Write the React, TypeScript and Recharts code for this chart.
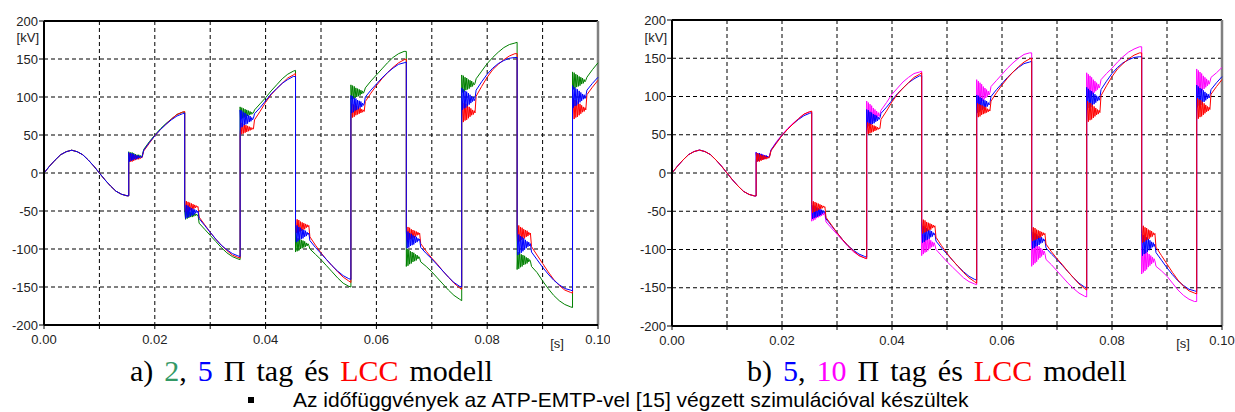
import { CartesianGrid, Line, LineChart, ReferenceLine, XAxis, YAxis } from "recharts";

// sample times in ms; each switching instant appears twice (value before / after the jump)
const timeMs = [
  0, 1, 2, 3, 4, 5, 6, 7, 8, 9, 10, 11, 12, 13, 14, 15,
  15.3, 15.3, 15.45, 15.6, 15.75, 15.9, 16.05, 16.2, 16.35, 16.5, 16.65, 16.8, 16.95, 17.1, 17.25, 17.4, 17.55, 17.7, 18, 19, 20, 21, 22, 23, 24, 25,
  25.4, 25.4, 25.55, 25.7, 25.85, 26, 26.15, 26.3, 26.45, 26.6, 26.75, 26.9, 27.05, 27.2, 27.35, 27.5, 27.65, 27.8, 28, 29, 30, 31, 32, 33, 34, 35,
  35.4, 35.4, 35.55, 35.7, 35.85, 36, 36.15, 36.3, 36.45, 36.6, 36.75, 36.9, 37.05, 37.2, 37.35, 37.5, 37.65, 37.8, 38, 39, 40, 41, 42, 43, 44, 45,
  45.4, 45.4, 45.55, 45.7, 45.85, 46, 46.15, 46.3, 46.45, 46.6, 46.75, 46.9, 47.05, 47.2, 47.35, 47.5, 47.65, 47.8, 48, 49, 50, 51, 52, 53, 54, 55,
  55.4, 55.4, 55.55, 55.7, 55.85, 56, 56.15, 56.3, 56.45, 56.6, 56.75, 56.9, 57.05, 57.2, 57.35, 57.5, 57.65, 57.8, 58, 59, 60, 61, 62, 63, 64, 65,
  65.4, 65.4, 65.55, 65.7, 65.85, 66, 66.15, 66.3, 66.45, 66.6, 66.75, 66.9, 67.05, 67.2, 67.35, 67.5, 67.65, 67.8, 68, 69, 70, 71, 72, 73, 74, 75,
  75.4, 75.4, 75.55, 75.7, 75.85, 76, 76.15, 76.3, 76.45, 76.6, 76.75, 76.9, 77.05, 77.2, 77.35, 77.5, 77.65, 77.8, 78, 79, 80, 81, 82, 83, 84, 85,
  85.4, 85.4, 85.55, 85.7, 85.85, 86, 86.15, 86.3, 86.45, 86.6, 86.75, 86.9, 87.05, 87.2, 87.35, 87.5, 87.65, 87.8, 88, 89, 90, 91, 92, 93, 94, 95,
  95.4, 95.4, 95.55, 95.7, 95.85, 96, 96.15, 96.3, 96.45, 96.6, 96.75, 96.9, 97.05, 97.2, 97.35, 97.5, 97.65, 97.8, 98, 99, 100,
];

// common start, before the first switching
const sineStart = [0, 9, 17, 24, 28, 30, 28, 24, 17, 9, 0, -9, -17, -24, -28, -30];

// 2 Π tag (kV)
const green = [
  ...sineStart,
  -30, 28, 16, 27, 17, 27, 18, 26, 19, 25, 19, 24, 20, 24, 21, 23, 21, 22, 31, 41, 50, 58, 65, 71, 77, 80,
  80, -49, -61, -50, -60, -50, -59, -51, -58, -52, -58, -53, -57, -53, -56, -54, -56, -55, -66, -74, -82, -90, -98, -105, -110, -113,
  -114, 87, 71, 86, 72, 85, 73, 84, 74, 83, 75, 82, 76, 81, 77, 80, 78, 79, 83, 91, 99, 108, 116, 124, 130, 134,
  135, -104, -85, -103, -86, -102, -87, -100, -88, -99, -89, -98, -90, -97, -92, -96, -93, -95, -100, -107, -114, -122, -130, -138, -145, -149,
  -150, 116, 97, 115, 98, 114, 99, 112, 100, 111, 101, 110, 102, 109, 104, 108, 105, 107, 112, 121, 129, 137, 145, 152, 157, 160,
  160, -123, -100, -122, -101, -120, -103, -119, -104, -117, -105, -116, -107, -115, -108, -113, -110, -112, -117, -123, -130, -138, -146, -154, -161, -166,
  -168, 129, 106, 128, 107, 126, 109, 125, 110, 123, 111, 122, 113, 121, 114, 119, 116, 118, 124, 134, 144, 152, 159, 165, 169, 171,
  172, -127, -104, -126, -105, -124, -107, -123, -108, -121, -109, -120, -111, -119, -112, -117, -114, -116, -123, -131, -142, -152, -161, -168, -173, -176,
  -177, 133, 110, 132, 111, 130, 113, 129, 114, 127, 115, 126, 117, 125, 118, 123, 120, 122, 126, 136, 145,
];

// 5 Π tag
const blue = [
  ...sineStart,
  -30, 27, 15, 26, 16, 26, 17, 25, 18, 24, 18, 23, 19, 23, 20, 22, 20, 21, 30, 40, 49, 57, 64, 70, 75, 78,
  79, -41, -60, -42, -59, -43, -58, -45, -57, -46, -56, -47, -55, -48, -53, -49, -52, -50, -60, -69, -78, -87, -95, -101, -106, -109,
  -110, 83, 60, 82, 61, 80, 63, 79, 64, 77, 65, 76, 67, 75, 68, 73, 70, 72, 78, 86, 95, 104, 111, 118, 123, 127,
  127, -68, -91, -69, -90, -71, -88, -72, -87, -74, -86, -75, -84, -76, -83, -78, -81, -79, -89, -98, -106, -114, -122, -129, -135, -139,
  -140, 102, 79, 101, 80, 99, 82, 98, 83, 96, 84, 95, 86, 94, 87, 92, 89, 91, 100, 109, 117, 125, 132, 138, 143, 145,
  146, -76, -99, -77, -98, -79, -96, -80, -95, -82, -94, -83, -92, -84, -91, -86, -89, -87, -98, -106, -113, -121, -129, -137, -144, -149,
  -150, 112, 83, 110, 85, 108, 86, 107, 88, 105, 90, 103, 92, 101, 94, 100, 95, 98, 109, 120, 130, 138, 144, 148, 151, 152,
  152, -79, -108, -81, -106, -83, -105, -84, -103, -86, -101, -88, -99, -90, -97, -91, -96, -93, -104, -114, -124, -133, -141, -147, -152, -154,
  -155, 115, 86, 113, 88, 111, 89, 110, 91, 108, 93, 106, 95, 104, 97, 103, 98, 101, 109, 118, 126,
];

// LCC modell
const red = [
  ...sineStart,
  -30, 14, 26, 15, 25, 15, 24, 16, 23, 17, 23, 18, 22, 18, 21, 19, 21, 20, 29, 39, 49, 57, 64, 71, 77, 80,
  81, -36, -52, -37, -51, -38, -50, -39, -49, -40, -48, -41, -47, -42, -46, -43, -45, -44, -58, -68, -78, -87, -95, -102, -108, -111,
  -112, 50, 66, 51, 65, 52, 64, 53, 63, 54, 62, 55, 61, 56, 60, 57, 59, 58, 70, 81, 93, 103, 111, 118, 125, 129,
  131, -60, -79, -61, -78, -62, -77, -64, -76, -65, -75, -66, -74, -67, -72, -68, -71, -69, -84, -95, -105, -114, -122, -130, -137, -142,
  -144, 72, 91, 73, 90, 74, 89, 76, 88, 77, 87, 78, 86, 79, 84, 80, 83, 81, 94, 105, 115, 124, 132, 139, 145, 149,
  150, -70, -89, -71, -88, -72, -87, -74, -86, -75, -85, -76, -84, -77, -82, -78, -81, -79, -93, -103, -112, -120, -129, -137, -145, -151,
  -153, 65, 94, 67, 92, 69, 91, 70, 89, 72, 87, 74, 85, 76, 83, 77, 82, 79, 101, 114, 126, 136, 143, 149, 154, 157,
  157, -68, -91, -69, -90, -71, -88, -72, -87, -74, -86, -75, -84, -76, -83, -78, -81, -79, -97, -108, -119, -130, -140, -148, -154, -157,
  -158, 69, 98, 71, 96, 73, 95, 74, 93, 76, 91, 78, 89, 80, 87, 81, 86, 83, 103, 113, 122,
];

// 10 Π tag
const magenta = [
  ...sineStart,
  -30, 27, 15, 26, 16, 26, 17, 25, 18, 24, 18, 23, 19, 23, 20, 22, 20, 21, 30, 41, 50, 58, 65, 71, 77, 80,
  80, -63, -44, -62, -45, -61, -46, -59, -47, -58, -48, -57, -49, -56, -51, -55, -52, -54, -64, -72, -80, -88, -96, -103, -108, -111,
  -112, 94, 59, 92, 61, 90, 63, 88, 66, 85, 68, 83, 70, 81, 72, 79, 74, 77, 82, 92, 103, 111, 119, 125, 130, 132,
  133, -108, -79, -106, -81, -104, -82, -103, -84, -101, -86, -99, -88, -97, -90, -96, -91, -94, -100, -108, -116, -123, -130, -137, -142, -145,
  -146, 122, 87, 120, 89, 118, 91, 116, 94, 113, 96, 111, 98, 109, 100, 107, 102, 105, 113, 121, 129, 137, 144, 150, 155, 157,
  157, -122, -87, -120, -89, -118, -91, -116, -94, -113, -96, -111, -98, -109, -100, -107, -102, -105, -113, -120, -128, -136, -144, -151, -157, -161,
  -162, 131, 96, 129, 98, 127, 100, 125, 103, 122, 105, 120, 107, 118, 109, 116, 111, 114, 122, 130, 137, 145, 152, 158, 162, 165,
  165, -132, -97, -130, -99, -128, -101, -126, -104, -123, -106, -121, -108, -119, -110, -117, -112, -115, -122, -128, -135, -144, -153, -160, -165, -168,
  -168, 136, 101, 134, 103, 132, 105, 130, 108, 127, 110, 125, 112, 123, 114, 121, 116, 119, 125, 131, 138,
];

const xTicks = [0, 10, 20, 30, 40, 50, 60, 70, 80, 90, 100];
const yTicks = [-200, -150, -100, -50, 0, 50, 100, 150, 200];

const rows = timeMs.map((t, i) => ({
  t,
  green: green[i],
  blue: blue[i],
  red: red[i],
  magenta: magenta[i],
}));

const sans = "'Liberation Sans', Arial, sans-serif";
const serif = "'Liberation Serif', 'Times New Roman', serif";
const tickFont = { fontSize: 13, fill: "#222", fontFamily: sans };

interface PanelProps {
  width: number;
  margin: { top: number; right: number; bottom: number; left: number };
  series: { key: string; color: string }[];
}

function Panel({ width, margin, series }: PanelProps) {
  return (
    <LineChart width={width} height={360} data={rows} margin={margin}>
      <CartesianGrid stroke="#000" strokeDasharray="4 3" />
      <XAxis
        dataKey="t"
        type="number"
        domain={[0, 100]}
        ticks={xTicks}
        interval={0}
        height={30}
        tick={tickFont}
        tickSize={4}
        tickMargin={6}
        tickLine={{ stroke: "#000" }}
        axisLine={{ stroke: "#000", strokeWidth: 2 }}
        tickFormatter={(v: number) => (Math.round(v) % 20 === 0 ? (v / 1000).toFixed(2) : "")}
      />
      <YAxis
        type="number"
        domain={[-200, 200]}
        ticks={yTicks}
        interval={0}
        width={40}
        tick={tickFont}
        tickSize={5}
        tickMargin={1}
        tickLine={{ stroke: "#000" }}
        axisLine={{ stroke: "#000", strokeWidth: 2 }}
      />
      <ReferenceLine y={200} stroke="#000" strokeWidth={2} />
      <ReferenceLine x={100} stroke="#808080" strokeWidth={2.5} />
      {series.map((s) => (
        <Line
          key={s.key}
          type="linear"
          dataKey={s.key}
          stroke={s.color}
          strokeWidth={1}
          dot={false}
          isAnimationActive={false}
        />
      ))}
    </LineChart>
  );
}

export default function App() {
  return (
    <div style={{ position: "absolute", left: 0, top: 0, width: 1235, height: 412, background: "#fff", overflow: "hidden" }}>
      <div style={{ position: "absolute", left: 0, top: 0 }}>
        <Panel
          width={610}
          margin={{ top: 21, right: 12, bottom: 5, left: 4 }}
          series={[
            { key: "green", color: "#008000" },
            { key: "red", color: "#ff0000" },
            { key: "blue", color: "#0000ff" },
          ]}
        />
      </div>
      <div style={{ position: "absolute", left: 610, top: 0 }}>
        <Panel
          width={625}
          margin={{ top: 20, right: 13, bottom: 4, left: 22 }}
          series={[
            { key: "magenta", color: "#ff00ff" },
            { key: "blue", color: "#0000ff" },
            { key: "red", color: "#ff0000" },
          ]}
        />
      </div>
      <svg width={1235} height={412} style={{ position: "absolute", left: 0, top: 0, pointerEvents: "none" }}>
        <text x={39} y={42} textAnchor="end" fontSize={13} fill="#222" fontFamily={sans}>[kV]</text>
        <text x={667} y={42} textAnchor="end" fontSize={13} fill="#222" fontFamily={sans}>[kV]</text>
        <text x={557} y={348} textAnchor="middle" fontSize={13} fill="#222" fontFamily={sans}>[s]</text>
        <text x={1183} y={348} textAnchor="middle" fontSize={13} fill="#222" fontFamily={sans}>[s]</text>
        <text x={130} y={381} fontSize={30} fontFamily={serif} fill="#000" style={{ wordSpacing: 3.5 }}>
          a) <tspan fill="#339966">2</tspan>, <tspan fill="#0000ff">5</tspan> Π tag és{" "}
          <tspan fill="#ff0000">LCC</tspan> modell
        </text>
        <text x={747} y={381} fontSize={30} fontFamily={serif} fill="#000" style={{ wordSpacing: 3.5 }}>
          b) <tspan fill="#0000ff">5</tspan>, <tspan fill="#ff00ff">10</tspan> Π tag és{" "}
          <tspan fill="#ff0000">LCC</tspan> modell
        </text>
        <rect x={248} y={397} width={6} height={6} fill="#000" />
        <text x={293} y={407} fontSize={21} fontFamily={sans} fill="#000">
          Az időfüggvények az ATP-EMTP-vel [15] végzett szimulációval készültek
        </text>
      </svg>
    </div>
  );
}
